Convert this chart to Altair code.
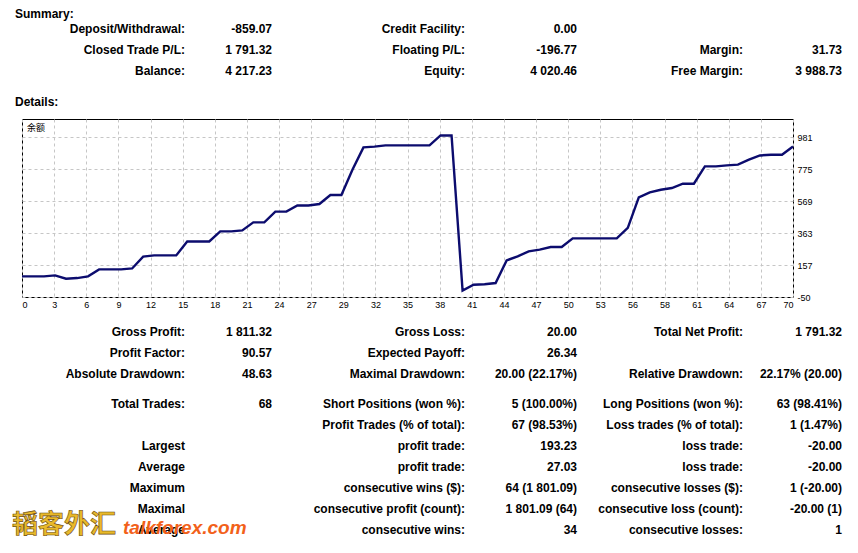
import json
import altair as alt
import pandas as pd

# ---------------- data ----------------
trade = list(range(71))
balance = [83, 83, 83, 89, 68, 72, 83, 128, 128, 128,
           134, 210, 218, 218, 218, 308, 308, 308, 373, 373,
           379, 431, 431, 500, 500, 540, 540, 549, 607, 607,
           770, 914, 919, 927, 927, 927, 927, 927, 991, 991,
           -9, 29, 32, 40, 186, 212, 244, 255, 272, 272,
           328, 328, 328, 328, 328, 395, 592, 624, 641, 652,
           680, 680, 792, 792, 798, 803, 835, 862, 867, 867,
           920]

x_tick_labels = ["0", "3", "6", "9", "12", "15", "18", "21", "24", "27", "29", "32",
                 "35", "38", "41", "44", "47", "50", "53", "56", "58", "61", "64",
                 "67", "70"]
y_tick_labels = ["-50", "157", "363", "569", "775", "981"]
y_first = -50
y_step = 206.2
x_max = 70
y_max = 1097
series_label = "余额"

summary_title = "Summary:"
details_title = "Details:"
s_lab1 = ["Deposit/Withdrawal:", "Closed Trade P/L:", "Balance:"]
s_val1 = ["-859.07", "1 791.32", "4 217.23"]
s_lab2 = ["Credit Facility:", "Floating P/L:", "Equity:"]
s_val2 = ["0.00", "-196.77", "4 020.46"]
s_lab3 = ["", "Margin:", "Free Margin:"]
s_val3 = ["", "31.73", "3 988.73"]

d_lab1 = ["Gross Profit:", "Profit Factor:", "Absolute Drawdown:", "Total Trades:", "",
          "Largest", "Average", "Maximum", "Maximal", "Average"]
d_val1 = ["1 811.32", "90.57", "48.63", "68", "", "", "", "", "", ""]
d_lab2 = ["Gross Loss:", "Expected Payoff:", "Maximal Drawdown:", "Short Positions (won %):",
          "Profit Trades (% of total):", "profit trade:", "profit trade:",
          "consecutive wins ($):", "consecutive profit (count):", "consecutive wins:"]
d_val2 = ["20.00", "26.34", "20.00 (22.17%)", "5 (100.00%)", "67 (98.53%)", "193.23",
          "27.03", "64 (1 801.09)", "1 801.09 (64)", "34"]
d_lab3 = ["Total Net Profit:", "", "Relative Drawdown:", "Long Positions (won %):",
          "Loss trades (% of total):", "loss trade:", "loss trade:",
          "consecutive losses ($):", "consecutive loss (count):", "consecutive losses:"]
d_val3 = ["1 791.32", "", "22.17% (20.00)", "63 (98.41%)", "1 (1.47%)", "-20.00",
          "-20.00", "1 (-20.00)", "-20.00 (1)", "1"]

watermark_cn = "韬客外汇"
watermark_en = "talkforex.com"

# ---------------- layout ----------------
PLOT_L, PLOT_T = 22, 119          # page coords of plot area
W, H = 771, 178
PAD = {"left": PLOT_L - 8, "top": PLOT_T - 8, "right": 55, "bottom": 244}
col_right = [185, 272, 465, 577, 743, 842]
summary_rows = [29, 50, 71]
detail_rows = [332, 353, 374, 404, 425, 446, 467, 488, 509, 530]
FONT = "Liberation Sans"


def text_table(columns, row_ys):
    rows = []
    for cx, texts in columns:
        for t, y in zip(texts, row_ys):
            if t:
                rows.append({"text": t, "px": cx - PLOT_L, "py": y - PLOT_T})
    return pd.DataFrame(rows)


right_df = pd.concat([
    text_table(list(zip(col_right, [s_lab1, s_val1, s_lab2, s_val2, s_lab3, s_val3])), summary_rows),
    text_table(list(zip(col_right, [d_lab1, d_val1, d_lab2, d_val2, d_lab3, d_val3])), detail_rows),
], ignore_index=True)

head_df = pd.DataFrame({
    "text": [summary_title, details_title],
    "px": [15 - PLOT_L, 15 - PLOT_L],
    "py": [14 - PLOT_T, 102 - PLOT_T],
})

# ---------------- chart ----------------
df = pd.DataFrame({"trade": trade, "balance": balance})
nx = len(x_tick_labels) - 1
x_vals = [k * x_max / nx for k in range(nx + 1)]
y_vals = [y_first + k * y_step for k in range(len(y_tick_labels))]

x_expr = f"{json.dumps(x_tick_labels)}[round(datum.value * {nx} / {x_max})]"
y_expr = f"{json.dumps(y_tick_labels)}[round((datum.value - ({y_first})) / {y_step})]"

common_axis = dict(title=None, grid=True, gridDash=[3, 3], gridColor="#c6c6c6",
                   gridWidth=1, domain=False, ticks=False, labelFont=FONT,
                   labelFontSize=9, labelColor="#000000")

line = alt.Chart(df).mark_line(color="#0c0c6e", strokeWidth=2.4).encode(
    x=alt.X("trade:Q", scale=alt.Scale(domain=[0, x_max], nice=False, zero=False),
            axis=alt.Axis(values=x_vals, labelExpr=x_expr, labelPadding=3, **common_axis)),
    y=alt.Y("balance:Q", scale=alt.Scale(domain=[y_first, y_max], nice=False, zero=False),
            axis=alt.Axis(orient="right", values=y_vals, labelExpr=y_expr,
                          labelPadding=4, **common_axis)),
)

label = alt.Chart(pd.DataFrame({"t": [series_label]})).mark_text(
    align="left", baseline="middle", font="Noto Sans CJK SC", fontSize=9, color="#000000"
).encode(x=alt.value(5), y=alt.value(9), text="t:N")

right_text = alt.Chart(right_df).mark_text(
    align="right", baseline="middle", font=FONT, fontSize=12, fontWeight="bold", color="#000000"
).encode(
    x=alt.X("px:Q", scale=None, axis=None),
    y=alt.Y("py:Q", scale=None, axis=None),
    text="text:N",
)

heads = alt.Chart(head_df).mark_text(
    align="left", baseline="middle", font=FONT, fontSize=12, fontWeight="bold", color="#000000"
).encode(
    x=alt.X("px:Q", scale=None, axis=None),
    y=alt.Y("py:Q", scale=None, axis=None),
    text="text:N",
)

wm_cn = alt.Chart(pd.DataFrame({"t": [watermark_cn]})).mark_text(
    align="left", baseline="middle", font="Noto Sans CJK SC", fontSize=26, fontWeight="bold",
    color="#e9b92a", stroke="#6b4a10", strokeWidth=0.6
).encode(x=alt.value(12 - PLOT_L), y=alt.value(525 - PLOT_T), text="t:N")

wm_en = alt.Chart(pd.DataFrame({"t": [watermark_en]})).mark_text(
    align="left", baseline="middle", font=FONT, fontSize=19, fontWeight="bold",
    fontStyle="italic", color="#f2611a"
).encode(x=alt.value(123 - PLOT_L), y=alt.value(528 - PLOT_T), text="t:N")

chart = alt.layer(line, label, right_text, heads, wm_cn, wm_en).properties(
    width=W, height=H,
    autosize=alt.AutoSizeParams(type="none"),
    padding=PAD,
    background="white",
).configure_view(stroke="#000000", strokeWidth=1)

chart.save("out.html", embed_options={"renderer": "svg", "actions": False})
